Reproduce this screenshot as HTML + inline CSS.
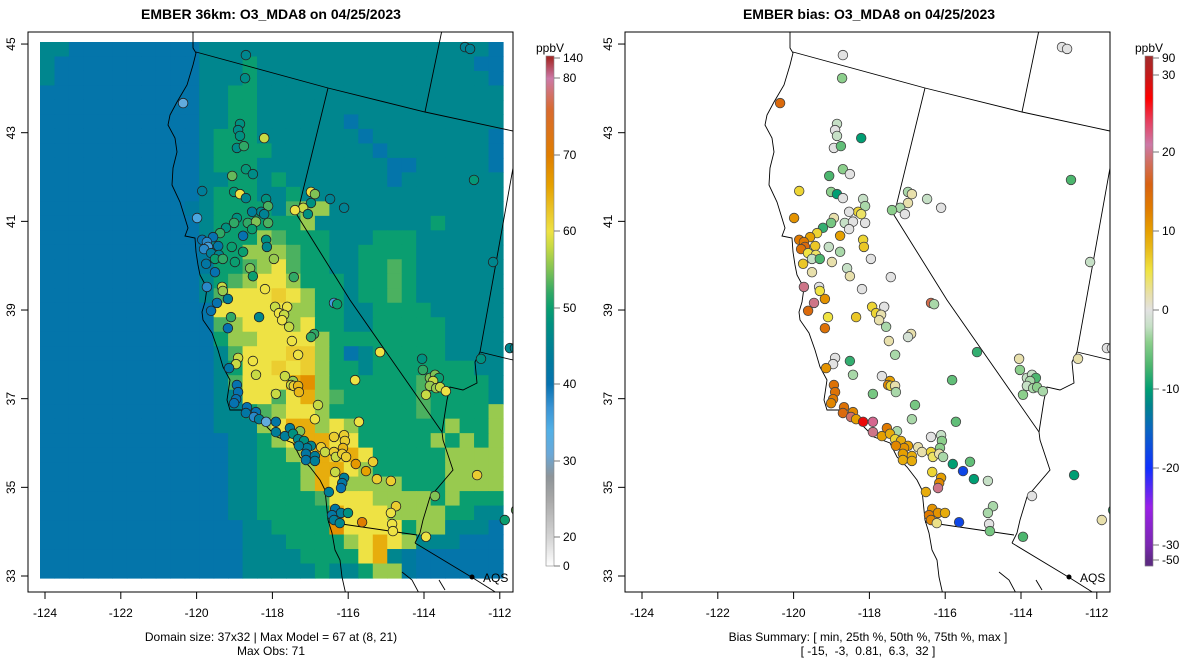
<!DOCTYPE html>
<html><head><meta charset="utf-8"><style>
html,body{margin:0;padding:0;background:#fff;}
svg{display:block;font-family:"Liberation Sans",Arial,sans-serif;}
</style></head><body>
<svg id="chart" width="1200" height="672" viewBox="0 0 1200 672">
<defs>
<clipPath id="clipL"><rect x="28" y="32" width="485" height="560"/></clipPath>
<clipPath id="clipR"><rect x="625" y="32" width="485" height="560"/></clipPath>
</defs>
<text x="271" y="19" text-anchor="middle" font-size="14" font-weight="bold">EMBER 36km: O3_MDA8 on 04/25/2023</text>
<text x="869" y="19" text-anchor="middle" font-size="14" font-weight="bold">EMBER bias: O3_MDA8 on 04/25/2023</text>
<g id="heat"></g>
<g id="mapL" clip-path="url(#clipL)"></g>
<g id="mapR" clip-path="url(#clipR)"></g>
<g id="ptsL" clip-path="url(#clipL)"></g>
<g id="ptsR" clip-path="url(#clipR)"></g>
<g id="axes"></g>
<g id="cbars"></g>
<text x="271" y="641" text-anchor="middle" font-size="12">Domain size: 37x32 | Max Model = 67 at (8, 21)</text>
<text x="271" y="655" text-anchor="middle" font-size="12">Max Obs: 71</text>
<text x="868" y="641" text-anchor="middle" font-size="12">Bias Summary: [ min, 25th %, 50th %, 75th %, max ]</text>
<text x="868" y="655" text-anchor="middle" font-size="12" xml:space="preserve">[ -15,  -3,  0.81,  6.3,  32 ]</text>
</svg>
<script>
// ---- data ----
const gridLevels = {B:41,b:43,T:46,G:50,g:53,L:56,Y:60,y:62,O:65,o:68};
const gridRows = [
"TTBBBBBBBBBTTTTTTTTTTTTTTTTTTTTB",
"TBBBBBBBBBBTTTGTTTTTTTTTTTTTTTBB",
"TBBBBBBBBBBTTTGTTTTTTTTTTTTTTTTB",
"BBBBBBBBBBBTTGGTTTTTTTTTTTTTTTTT",
"BBBBBBBBBBBTTGGTTTTTTTTTTTTTTTTT",
"BBBBBBBBBBBTTGGTTTTTTBTTTTTTTTTT",
"BBBBBBBBBBBTGGGTTTTTTTBTTTTTTTTB",
"BBBBBBBBBBBTGGGGTTTTTTTBTTTTTTTB",
"BBBBBBBBBBBTGGGTTTTTTTTTBBTTTTTB",
"BBBBBBBBBBBTTGGTGTTTTTTTBTTTTTTT",
"BBBBBBBBBBBTGGGTTGTTTTTTTTTTTTTT",
"BBBBBBBBBBbTGGGGTgLLTTTTTTTTTTTT",
"BBBBBBBBBBBTGGGGGGLTTTTTTTTGTTTT",
"BBBBBBBBBBBTGGGLgGGGTTTGGGTTTTTT",
"BBBBBBBBBBBbGGLLLgGGTTGGGGTTTTTT",
"BBBBBBBBBBBbGGgLYgGGTTGGgGTTTTTT",
"BBBBBBBBBBBTGgLYYLGGGTGGgGTTTTTT",
"BBBBBBBBBBBTgYYYyYLGGTGGgGTTTTTT",
"BBBBBBBBBBBBYYYYYLLGGTTGGGGTTTTT",
"BBBBBBBBBBBBgLYYYLYGGTTGGGGGTTTT",
"BBBBBBBBBBBBGLLYYYYLGGGGGGGGTTTT",
"BBBBBBBBBBBBTgYYYyyLGBTGGGGGTTTT",
"BBBBBBBBBBBBTGYYyYyLGGTGGGGGGGTT",
"BBBBBBBBBBBBTgYYYOoLGGGGGGgGGGGT",
"BBBBBBBBBBBBTTYYgYOLgGGGGGgGGGGT",
"BBBBBBBBBBBBTTGgLYYLGGGGGGgGGGGL",
"BBBBBBBBBBBBTTTLYOOLYLGGGGGGLGGL",
"BBBBBBBBBBBBBTTGLYOOYYGGGGGLGLGL",
"BBBBBBBBBBBBBTTGGLYOyOYGGGGGLLLL",
"BBBBBBBBBBBBBTTGGGLOOYLGGGGGLLLL",
"BBBBBBBBBBBBBTTGGGLOYLLLLGGGLLLL",
"BBBBBBBBBBBBBTTGGGGgYYYLLLLGLGGG",
"BBBBBBBBBBBBBTTGGGGGOYYYLLLLGGTT",
"BBBBBBBBBBBBBBTTGGGGoYYYYGLLTTTB",
"BBBBBBBBBBBBBBTTTGGGGLYOYLTTTBBB",
"BBBBBBBBBBBBBBTTTTGGGGYOTbBBBBBB",
"BBBBBBBBBBBBBBTTTTTGTTGLLbBBBBBB"
];
const siteLon = [-118.85,-118.87,-120.46,-119.0,-119.05,-119.0,-118.38,-119.08,-118.9,-118.85,-118.67,-119.2,-119.97,-119.15,-119.0,-118.85,-118.33,-118.28,-120.1,-118.46,-118.38,-118.69,-119.08,-119.15,-118.8,-118.59,-118.28,-118.69,-119.36,-119.51,-119.69,-119.97,-119.85,-119.82,-119.92,-119.74,-119.56,-119.54,-119.64,-119.44,-119.87,-119.13,-119.21,-118.92,-118.92,-118.33,-118.31,-118.13,-119.64,-118.74,-118.67,-117.62,-118.36,-119.46,-119.44,-119.85,-119.31,-119.59,-118.1,-117.79,-116.59,-116.51,-117.18,-117.08,-117.18,-117.38,-117.59,-117.26,-116.69,-116.33,-113.0,-112.51,-113.23,-113.1,-119.74,-119.23,-118.51,-118.0,-117.87,-117.92,-117.74,-119.31,-117.1,-117.18,-117.67,-117.51,-115.41,-119.05,-119.1,-118.67,-119.28,-118.59,-117.85,-117.64,-117.69,-117.62,-117.51,-117.49,-118.08,-116.05,-119.08,-119.05,-119.1,-119.15,-117.0,-118.82,-118.85,-118.59,-118.64,-118.51,-118.33,-118.08,-118.08,-117.08,-115.95,-117.72,-117.46,-117.85,-117.64,-117.51,-117.36,-117.18,-117.28,-117.49,-116.92,-116.82,-116.59,-116.33,-116.31,-116.36,-116.59,-116.54,-116.38,-116.28,-117.31,-117.08,-117.31,-117.08,-116.03,-115.59,-115.77,-115.49,-115.13,-116.56,-116.33,-116.38,-116.41,-116.72,-116.56,-116.41,-116.23,-116.64,-116.59,-116.44,-115.87,-115.0,-115.13,-115.1,-115.08,-114.23,-114.0,-114.33,-114.31,-114.13,-114.0,-113.9,-114.05,-114.13,-113.97,-113.87,-113.72,-114.23,-112.92,-112.82,-112.21,-112.08,-111.95,-111.92];
const siteLat = [44.75,44.23,43.67,43.2,43.06,42.93,42.88,42.66,42.7,42.18,42.07,42.03,41.69,41.67,41.62,41.53,41.51,41.35,41.08,41.22,41.17,41.22,41.08,40.97,40.97,41.0,40.97,40.83,40.86,40.74,40.65,40.59,40.54,40.43,40.38,40.29,40.45,40.25,40.16,40.16,40.05,40.09,40.43,40.68,40.32,40.59,40.43,40.16,39.86,39.95,39.77,39.75,39.48,39.53,39.44,39.53,39.26,39.17,39.08,39.08,39.17,39.14,41.67,41.62,41.42,41.31,41.26,41.17,41.51,41.31,41.94,40.09,44.93,44.89,38.99,38.85,38.85,38.94,38.9,38.78,38.63,38.6,38.47,38.4,38.31,38.0,38.06,37.93,37.79,37.86,37.7,37.55,37.52,37.41,37.32,37.3,37.3,37.16,37.12,37.43,37.32,37.16,37.0,36.91,36.87,36.82,36.69,36.71,36.6,36.55,36.49,36.49,36.26,36.55,36.49,36.35,36.28,36.17,36.22,36.1,36.06,35.95,35.9,35.95,35.92,35.81,36.15,36.19,36.06,35.9,35.81,35.7,35.77,35.7,35.77,35.72,35.63,35.61,35.54,35.59,35.38,35.2,35.16,35.36,35.23,35.11,35.0,34.91,34.53,34.44,34.44,34.39,34.28,34.21,34.23,34.59,34.44,34.19,34.03,33.9,34.82,37.91,37.66,37.48,37.55,37.48,37.41,37.3,37.25,37.27,37.18,37.1,35.29,37.91,34.28,38.15,38.15,34.5];
const siteObs = [46,47,32,48,47,48,58,47,52,49,47,54,44,49,60,46,48,53,35,46,45,44,48,52,52,55,53,50,48,52,40,40,38,36,38,44,42,46,50,52,42,50,50,40,50,48,46,56,40,55,50,52,60,58,56,38,44,40,58,60,36,50,60,55,48,58,60,48,45,45,49,46,45,45,40,52,46,60,58,60,58,40,52,52,60,60,60,58,58,60,42,58,58,56,58,62,64,64,58,60,40,40,40,40,58,40,42,40,38,44,32,42,44,60,60,44,55,44,48,46,48,46,44,44,62,58,62,62,62,64,62,58,62,62,42,44,42,44,67,62,66,62,62,58,44,42,40,44,42,44,48,42,44,46,70,62,60,60,60,60,55,48,52,55,55,50,58,56,56,58,60,58,62,48,50,46,46,54];
const siteBias = [0,-4,15,-2,0,-2,-10,0,-6,-4,0,-7,6,-4,-10,0,-2,-3,11,6,4,0,2,-5,-2,0,0,0,-8,6,10,13,13,15,14,5,7,4,-2,-7,7,2,-2,10,-3,6,7,0,2,-2,2,0,0,0,5,20,11,20,6,0,18,-3,-3,2,2,-3,-4,0,-2,0,-7,-2,0,0,15,5,7,6,2,2,-3,14,2,-1,2,-3,-8,0,0,-8,11,-3,0,10,12,6,2,-3,-5,-6,14,14,13,12,-5,14,15,12,19,10,28,22,20,-3,-6,13,-3,10,9,6,9,10,11,12,2,2,0,-2,-4,-4,6,4,2,-3,10,9,9,9,-10,-6,-18,-10,-2,6,10,12,20,9,11,11,9,13,12,3,-18,-3,-3,0,-5,-7,0,2,-4,-2,-2,-7,-3,-2,-3,-4,-3,-4,-10,2,2,0,0,-8];
const lonTicks = [-124,-122,-120,-118,-116,-114,-112];
const latTicks = [33,35,37,39,41,43,45];
const obsBarTicks = [0,20,30,40,50,60,70,80,140];
const biasBarTicks = [-50,-30,-20,-10,0,10,20,30,90];

// ---- scales ----
const NS='http://www.w3.org/2000/svg';
function mk(tag,attrs,parent){const e=document.createElementNS(NS,tag);for(const k in attrs)e.setAttribute(k,attrs[k]);parent.appendChild(e);return e;}
function xPt(lon){return 45+(lon+124)*39;}
function yPt(lat){return 44+(45-lat)*44.4;}
function xTick(lon){return 45+(lon+124)*37.9;}
function yTick(lat){return 576+(33-lat)*44.33;}
function hex(h){return [parseInt(h.slice(1,3),16),parseInt(h.slice(3,5),16),parseInt(h.slice(5,7),16)];}
function interp(stops,v){
  if(v<=stops[0][0])return stops[0][1];
  for(let i=1;i<stops.length;i++){if(v<=stops[i][0]){const a=stops[i-1],b=stops[i];const t=(v-a[0])/(b[0]-a[0]);const c1=hex(a[1]),c2=hex(b[1]);return 'rgb('+c1.map((c,j)=>Math.round(c+(c2[j]-c)*t)).join(',')+')';}}
  return stops[stops.length-1][1];
}
const obsStops=[[0,'#ffffff'],[20,'#d4d4d4'],[25,'#a8a8a8'],[28,'#8e9498'],[31,'#6aa8d8'],[34,'#52b0e6'],[37,'#3a94d4'],[40,'#0672b0'],[43,'#007a9e'],[46,'#00868e'],[48,'#009180'],[50,'#0a9e70'],[52,'#30a866'],[55,'#80c255'],[58,'#c8da44'],[60,'#eee244'],[63,'#eac226'],[66,'#e6a200'],[70,'#e07e00'],[76,'#d86a30'],[80,'#cc79a7'],[140,'#a52a2a']];
const biasStops=[[-50,'#5e2a84'],[-30,'#7a28b0'],[-25,'#9a20e8'],[-20,'#1030ff'],[-15,'#0a66c0'],[-12,'#00848c'],[-10,'#009e73'],[-7,'#4cb66e'],[-4,'#8ccf8c'],[-2,'#c6e0c6'],[0,'#e2e2e2'],[2,'#e8e0ac'],[5,'#f0e442'],[8,'#e8b818'],[10,'#e6a000'],[13,'#e07a00'],[16,'#d86212'],[19,'#d07068'],[21,'#cc79a7'],[24,'#e64060'],[27,'#ff0000'],[30,'#c41a1a'],[90,'#a52a2a']];
const obsBarPos={0:566,20:537,30:461,40:384,50:308,60:231,70:155,80:78,140:58};
const biasBarPos={'-50':560,'-30':545,'-20':468,'-10':389,0:310,10:231,20:152,30:75,90:58};

// ---- heatmap ----
const heat=document.getElementById('heat');
const nR=gridRows.length, nC=32, cw=463/nC, ch=536/nR;
gridRows.forEach((row,r)=>{
  for(let c=0;c<nC;c++){
    const v=gridLevels[row[Math.min(c,row.length-1)]];
    const e=mk('rect',{x:(40+c*cw).toFixed(2),y:(42+r*ch).toFixed(2),width:(cw+0.6).toFixed(2),height:(ch+0.6).toFixed(2),fill:interp(obsStops,v)},heat);
    
    
  }
});

// ---- map outlines (left-panel pixel coords) ----
const outlines=[
 [[193,30],[193,48],[196,53],[193,65],[187,85],[177,102],[170,115],[168,125],[175,138],[177,152],[173,168],[172,185],[180,202],[184,215],[188,228],[185,236],[195,238],[196,252],[198,265],[200,275],[207,288],[205,302],[202,312],[203,320],[212,333],[218,350],[223,367],[230,380],[227,400],[230,410],[243,410],[263,423],[277,437],[293,443],[300,457],[310,467],[320,480],[325,490],[327,510],[328,520],[332,533],[335,550],[340,560],[342,577],[346,595]],
 [[196,52],[328,88],[425,112],[513,131]],
 [[328,88],[297,215],[350,300],[442,432],[443,440],[453,470],[430,497],[423,520],[420,533],[415,543]],
 [[425,112],[442,30]],
 [[513,168],[480,352],[475,362],[477,383],[463,390],[450,387],[447,400],[442,432]],
 [[480,352],[513,360]],
 [[328,522],[417,535]],
 [[415,543],[473,578],[500,595]],
 [[402,572],[412,580],[420,595]],
 [[439,580],[445,590]]
];
['mapL','mapR'].forEach((id,i)=>{
  const g=document.getElementById(id);
  outlines.forEach(pl=>{
    const e=mk('polyline',{points:pl.map(p=>(p[0]+i*597)+','+p[1]).join(' '),fill:'none',stroke:'#000','stroke-width':0.9},g);
    
    
  });
});

// ---- points ----
const gL=document.getElementById('ptsL'), gR=document.getElementById('ptsR');
siteLon.forEach((lon,i)=>{
  const x=xPt(lon), y=yPt(siteLat[i]);
  const a=mk('circle',{cx:x.toFixed(1),cy:y.toFixed(1),r:4.8,fill:interp(obsStops,siteObs[i]),stroke:'#222','stroke-width':0.8},gL);
  
  
  const b=mk('circle',{cx:(x+597).toFixed(1),cy:y.toFixed(1),r:4.8,fill:interp(biasStops,siteBias[i]),stroke:'#444','stroke-width':0.8},gR);
  
  
});

// ---- axes ----
const ax=document.getElementById('axes');
[0,597].forEach(off=>{
  mk('rect',{x:28+off,y:32,width:485,height:560,fill:'none',stroke:'#000','stroke-width':1},ax);
  lonTicks.forEach(l=>{
    const x=xTick(l)+off;
    mk('line',{x1:x,y1:592,x2:x,y2:599,stroke:'#000'},ax);
    const t=mk('text',{x:x,y:617,'text-anchor':'middle','font-size':12},ax);t.textContent=l;
    
    
  });
  latTicks.forEach(l=>{
    const y=yTick(l);
    mk('line',{x1:28+off,y1:y,x2:21+off,y2:y,stroke:'#000'},ax);
    const t=mk('text',{x:0,y:0,'text-anchor':'middle','font-size':12,transform:'translate('+(15+off)+','+y+') rotate(-90)'},ax);t.textContent=l;
    
    
  });
  mk('circle',{cx:472+off,cy:577,r:2.5,fill:'#000'},ax);
  const q=mk('text',{x:483+off,y:582,'font-size':12},ax);q.textContent='AQS';
  
  
});

// ---- colorbars ----
const cb=document.getElementById('cbars');
function bar(x,ticks,pos,stops,name){
  const ys=ticks.map(t=>pos[t]);
  for(let y=56;y<566;y++){
    let v=ticks[0];
    for(let i=1;i<ticks.length;i++){if(y<=ys[i-1]&&y>=ys[i]){v=ticks[i-1]+(ticks[i]-ticks[i-1])*(ys[i-1]-y)/(ys[i-1]-ys[i]);break;}}
    if(y<ys[ys.length-1])v=ticks[ticks.length-1];
    mk('rect',{x:x,y:y,width:8,height:1.2,fill:interp(stops,v)},cb);
  }
  const fr=mk('rect',{x:x,y:56,width:8,height:510,fill:'none',stroke:'#888','stroke-width':0.6},cb);
  
  
  ticks.forEach(t=>{
    mk('line',{x1:x+8,y1:pos[t],x2:x+14,y2:pos[t],stroke:'#777'},cb);
    const e=mk('text',{x:x+17,y:pos[t]+4,'font-size':12},cb);e.textContent=t;
    
    
  });
  const u=mk('text',{x:x+4,y:52,'text-anchor':'middle','font-size':12},cb);u.textContent='ppbV';
  
  
}
bar(546,obsBarTicks,obsBarPos,obsStops,'obs-colorbar');
bar(1145,biasBarTicks,biasBarPos,biasStops,'bias-colorbar');
</script>
</body></html>
